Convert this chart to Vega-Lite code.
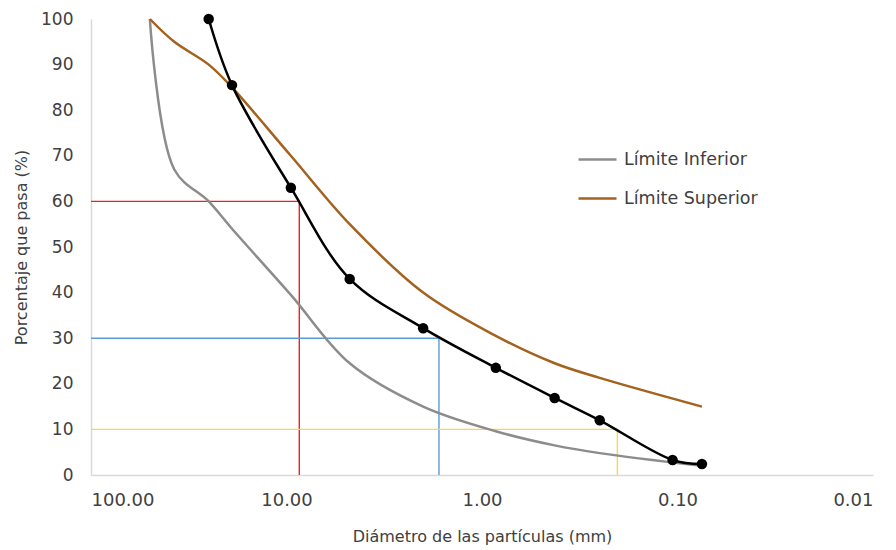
{
  "$schema": "https://vega.github.io/schema/vega-lite/v6.json",
  "width": 782,
  "height": 456,
  "autosize": {"type": "none"},
  "padding": {"left": 91, "top": 19, "right": 23, "bottom": 75},
  "background": "white",
  "config": {
    "view": {"stroke": null},
    "font": "DejaVu Sans",
    "axis": {
      "grid": false,
      "ticks": false,
      "domainColor": "#d9d9d9",
      "domainWidth": 1.5,
      "labelFont": "DejaVu Sans",
      "labelColor": "#404040",
      "titleFont": "DejaVu Sans",
      "titleFontSize": 16,
      "titleFontWeight": "normal",
      "titleColor": "#404040"
    }
  },
  "datasets": {
    "muestra": [
      {"d": 25, "p": 100},
      {"d": 19, "p": 85.5},
      {"d": 9.5, "p": 63},
      {"d": 4.75, "p": 43},
      {"d": 2.0, "p": 32.2},
      {"d": 0.85, "p": 23.5},
      {"d": 0.425, "p": 16.9},
      {"d": 0.25, "p": 12},
      {"d": 0.106, "p": 3.3},
      {"d": 0.075, "p": 2.4}
    ],
    "limites": [
      {"serie": "Límite Inferior", "d": 50, "p": 100},
      {"serie": "Límite Inferior", "d": 37.5, "p": 67},
      {"serie": "Límite Inferior", "d": 25, "p": 60},
      {"serie": "Límite Inferior", "d": 19, "p": 54},
      {"serie": "Límite Inferior", "d": 9.5, "p": 39.5},
      {"serie": "Límite Inferior", "d": 4.75, "p": 24.5},
      {"serie": "Límite Inferior", "d": 2.0, "p": 15},
      {"serie": "Límite Inferior", "d": 0.85, "p": 9.6},
      {"serie": "Límite Inferior", "d": 0.425, "p": 6.5},
      {"serie": "Límite Inferior", "d": 0.25, "p": 4.8},
      {"serie": "Límite Inferior", "d": 0.075, "p": 2},
      {"serie": "Límite Superior", "d": 50, "p": 100},
      {"serie": "Límite Superior", "d": 37.5, "p": 95},
      {"serie": "Límite Superior", "d": 25, "p": 90},
      {"serie": "Límite Superior", "d": 19, "p": 85},
      {"serie": "Límite Superior", "d": 9.5, "p": 70},
      {"serie": "Límite Superior", "d": 4.75, "p": 55},
      {"serie": "Límite Superior", "d": 2.0, "p": 40},
      {"serie": "Límite Superior", "d": 0.85, "p": 30.5},
      {"serie": "Límite Superior", "d": 0.425, "p": 24.5},
      {"serie": "Límite Superior", "d": 0.25, "p": 21.3},
      {"serie": "Límite Superior", "d": 0.075, "p": 15}
    ],
    "refs": [
      {"ref": "D60", "orden": 1, "d": 100, "p": 60},
      {"ref": "D60", "orden": 2, "d": 8.6, "p": 60},
      {"ref": "D60", "orden": 3, "d": 8.6, "p": 0},
      {"ref": "D30", "orden": 1, "d": 100, "p": 30},
      {"ref": "D30", "orden": 2, "d": 1.66, "p": 30},
      {"ref": "D30", "orden": 3, "d": 1.66, "p": 0},
      {"ref": "D10", "orden": 1, "d": 100, "p": 10},
      {"ref": "D10", "orden": 2, "d": 0.203, "p": 10},
      {"ref": "D10", "orden": 3, "d": 0.203, "p": 0}
    ]
  },
  "encoding": {
    "x": {
      "field": "d",
      "type": "quantitative",
      "scale": {"type": "log", "domain": [100, 0.01], "nice": false},
      "axis": {
        "values": [100, 10, 1, 0.1, 0.01],
        "format": ".2f",
        "labelFontSize": 18,
        "labelPadding": 16,
        "title": "Diámetro de las partículas (mm)",
        "titlePadding": 19
      }
    },
    "y": {
      "field": "p",
      "type": "quantitative",
      "scale": {"domain": [0, 100], "nice": false},
      "axis": {
        "values": [0, 10, 20, 30, 40, 50, 60, 70, 80, 90, 100],
        "labelFontSize": 17,
        "labelPadding": 18,
        "title": "Porcentaje que pasa (%)",
        "titlePadding": 11
      }
    }
  },
  "layer": [
    {
      "data": {"name": "refs"},
      "mark": {"type": "line", "strokeWidth": 1.4},
      "encoding": {
        "order": {"field": "orden", "type": "quantitative"},
        "color": {
          "field": "ref",
          "type": "nominal",
          "scale": {"domain": ["D60", "D30", "D10"], "range": ["#ff1a1a", "#5b9bd5", "#ffd34d"]},
          "legend": null
        }
      }
    },
    {
      "data": {"name": "limites"},
      "mark": {"type": "line", "interpolate": "catmull-rom", "strokeWidth": 2.5},
      "encoding": {
        "color": {
          "field": "serie",
          "type": "nominal",
          "scale": {"domain": ["Límite Inferior", "Límite Superior"], "range": ["#8c8c8c", "#a3621d"]},
          "legend": {
            "title": null,
            "orient": "none",
            "legendX": 486,
            "legendY": 120,
            "padding": 0,
            "symbolType": "stroke",
            "symbolSize": 1444,
            "symbolStrokeWidth": 2.5,
            "rowPadding": 10,
            "labelOffset": 6,
            "labelFont": "DejaVu Sans",
            "labelFontSize": 17.5,
            "labelColor": "#404040"
          }
        }
      }
    },
    {
      "data": {"name": "muestra"},
      "mark": {
        "type": "line",
        "interpolate": "catmull-rom",
        "color": "#000000",
        "strokeWidth": 2.5,
        "point": {"filled": true, "size": 110, "color": "#000000"}
      }
    }
  ],
  "resolve": {"scale": {"color": "independent"}}
}
